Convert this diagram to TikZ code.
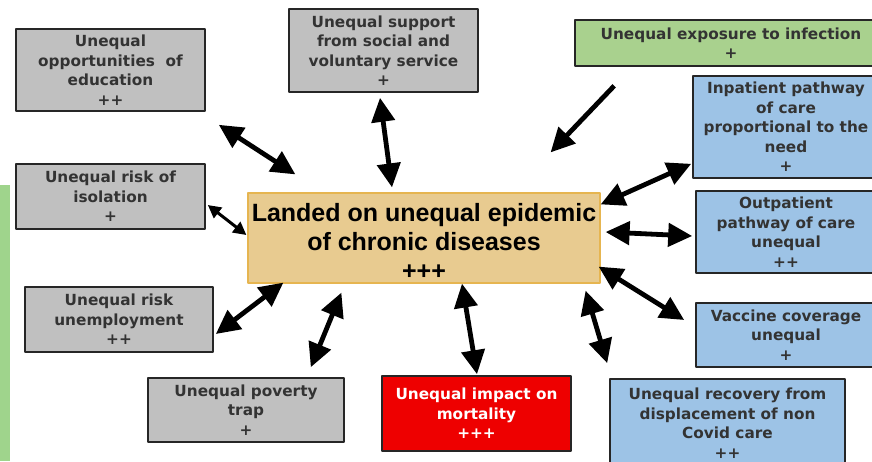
\documentclass[tikz,border=0pt]{standalone}
\usepackage{fontspec}
\setmainfont{DejaVu Sans}
\newfontfamily\arialfont{Liberation Sans}
\usetikzlibrary{arrows.meta}
\definecolor{boxgray}{HTML}{C0C0C0}
\definecolor{boxgreen}{HTML}{A9D18E}
\definecolor{boxblue}{HTML}{9DC3E6}
\definecolor{boxred}{HTML}{EE0000}
\definecolor{coretan}{HTML}{E8CB90}
\definecolor{coreedge}{HTML}{E6B550}
\definecolor{stripgreen}{HTML}{9FD48C}
\begin{document}
\begin{tikzpicture}[x=1pt, y=-1pt, line join=round,
		font=\bfseries\fontsize{15.3}{19.5}\selectfont,
		box/.style={draw=black!85, line width=1.6pt, text=black!80, align=center, inner sep=0pt},
		link/.style={line width=4.8pt, {Triangle[length=24pt,width=23pt]}-{Triangle[length=24pt,width=23pt]}},
		oneway/.style={line width=4.8pt, -{Triangle[length=24pt,width=23pt]}}]
	\useasboundingbox (0,0) rectangle (872,461);
	\clip (0,0) rectangle (872,461);
	\fill[stripgreen] (0,185) rectangle (10,461);
	% centre
	\node[draw=coreedge, line width=1.2pt, fill=coretan, inner sep=0pt,
		minimum width=352pt, minimum height=90pt] (core) at (424,238) {};
	\node[align=center, inner sep=0pt, font=\arialfont\bfseries\fontsize{25}{29}\selectfont] (coretext) at (424,241)
		{Landed on unequal epidemic\\of chronic diseases\\+++};
	% left and bottom
	\node[box, fill=boxgray, minimum width=189pt, minimum height=82pt] (educ) at (110.5,70) {Unequal\\opportunities\ \ of\\education\\++};
	\node[box, fill=boxgray, minimum width=189pt, minimum height=83pt] (social) at (383.5,50.5) {Unequal support\\from social and\\voluntary service\\+};
	\node[box, fill=boxgray, minimum width=189pt, minimum height=65pt] (isol) at (110.5,196.5) {Unequal risk of\\isolation\\+};
	\node[box, fill=boxgray, minimum width=188pt, minimum height=65pt] (unemp) at (119,319.5) {Unequal risk\\unemployment\\++};
	\node[box, fill=boxgray, minimum width=196pt, minimum height=64pt] (pov) at (246,410) {Unequal poverty\\trap\\+};
	\node[box, fill=boxred, text=white, minimum width=189pt, minimum height=75pt] (mort) at (476.5,413.5) {Unequal impact on\\mortality\\+++};
	% right
	\node[box, fill=boxgreen, minimum width=312pt, minimum height=46pt] (expo) at (731,43) {Unequal exposure to infection\\+};
	\node[box, fill=boxblue, minimum width=186pt, minimum height=102pt] (inpat) at (786,127) {Inpatient pathway\\of care\\proportional to the\\need\\+};
	\node[box, fill=boxblue, minimum width=180pt, minimum height=82pt] (outpat) at (786,232) {Outpatient\\pathway of care\\unequal\\++};
	\node[box, fill=boxblue, minimum width=180pt, minimum height=64pt] (vacc) at (786,335) {Vaccine coverage\\unequal\\+};
	\node[box, fill=boxblue, minimum width=235pt, minimum height=88pt] (recov) at (727.5,423) {Unequal recovery from\\displacement of non\\Covid care\\++};
	% arrows
	\draw[link] ([shift={(13,13)}]educ.south east) -- ([shift={(48,-18)}]core.north west);
	\draw[link] ([shift={(-3.5,5)}]social.south) -- ([shift={(-32,-5)}]core.north);
	\draw[oneway] ([shift={(40,19)}]expo.south west) -- ([shift={(-50,-40)}]core.north east);
	\draw[link] ([shift={(-1,-15)}]inpat.south west) -- ([shift={(0,12)}]core.north east);
	\draw[link] ([shift={(-3,4)}]outpat.west) -- ([shift={(5,-6)}]core.east);
	\draw[link] ([shift={(-11,-15)}]vacc.west) -- ([shift={(-2,-17)}]core.south east);
	\draw[link] ([shift={(-2,-15)}]recov.north west) -- ([shift={(-15,7)}]core.south east);
	\draw[link] ([shift={(0.5,-1)}]mort.north) -- ([shift={(38,0)}]core.south);
	\draw[link] ([shift={(-34,-10)}]pov.north east) -- ([shift={(94,9)}]core.south west);
	\draw[link] ([shift={(2,14.5)}]unemp.east) -- ([shift={(36,-1)}]core.south west);
	\draw[line width=3pt, {Triangle[length=13pt,width=13pt]}-{Triangle[length=13pt,width=13pt]}]
		([shift={(2,8.5)}]isol.east) -- ([shift={(-1,-3)}]core.west);
\end{tikzpicture}
\end{document}
